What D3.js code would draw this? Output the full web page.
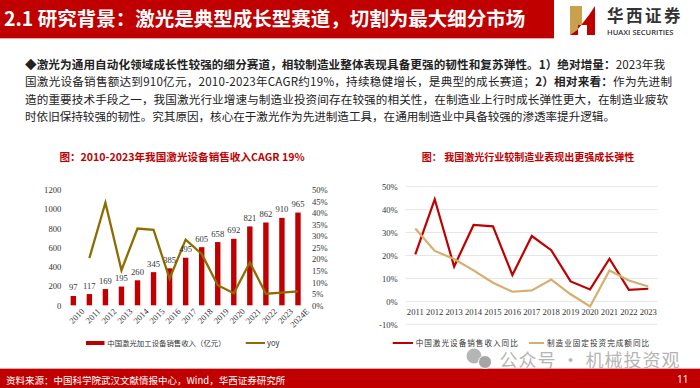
<!DOCTYPE html>
<html>
<head>
<meta charset="utf-8">
<script src="https://cdn.jsdelivr.net/npm/d3@7"></script>
<style>
  html, body { margin: 0; padding: 0; background: #fff; }
  svg { display: block; }
</style>
</head>
<body>
<div id="chart"></div>
<script>
// 左图：激光设备销售收入与同比
const years = ["2010","2011","2012","2013","2014","2015","2016","2017","2018","2019","2020","2021","2022","2023","2024E"];
const revenue = [97,117,169,195,260,345,385,495,605,658,692,821,862,910,965];
const yoy = [null,20.5,44.5,15.2,33.3,32.7,11.5,28.5,22.3,8.7,5.2,18.6,5.0,5.5,6.0];
const revenueTicks = [0,200,400,600,800,1000,1200];
const yoyTicks = [0,5,10,15,20,25,30,35,40,45,50];

// 右图：激光行业与制造业投资同比
const years2 = ["2011","2012","2013","2014","2015","2016","2017","2018","2019","2020","2021","2022","2023"];
const laserYoy = [20.5,44.5,15.2,33.3,32.7,11.5,28.5,22.3,8.7,5.2,18.6,5.0,5.5];
const mfgYoy = [31.8,22.0,18.5,13.5,8.1,4.2,4.8,9.5,3.1,-2.2,13.5,9.1,6.5];
const pctTicks = [-10,0,10,20,30,40,50];

const RED = "#c00000", OLIVE = "#8f6c00", TAN = "#d6ae6e";
const CJK = "'Noto Sans CJK SC'", SERIF = "'Liberation Serif'";

const svg = d3.select("#chart").append("svg").attr("width", 700).attr("height", 388);

// 顶部标题栏
svg.append("rect").attr("width", 554).attr("height", 38).attr("fill", RED);
svg.append("rect").attr("y", 38).attr("width", 554).attr("height", 1).attr("fill", "#e9a6a6");
svg.append("text").attr("x", 4).attr("y", 26)
  .attr("font-family", CJK).attr("font-size", 19.5).attr("font-weight", 700).attr("fill", "#fff")
  .text("2.1 研究背景：激光是典型成长型赛道，切割为最大细分市场");

// logo
svg.append("path").attr("d", "M570 6L582 6L582 24L577 30L570 35Z").attr("fill", "#c9a04b");
svg.append("path").attr("d", "M570 35L577 30L582 24L589 15L595 6L595 35L587 35L587 25L578 25L578 35Z").attr("fill", RED);
svg.append("text").attr("x", 607).attr("y", 22).attr("font-family", CJK)
  .attr("font-size", 16.5).attr("letter-spacing", 2.5).attr("font-weight", 700).attr("fill", "#333").text("华西证券");
svg.append("text").attr("x", 607).attr("y", 34.5).attr("font-family", "'Open Sans'")
  .attr("font-size", 7.6).attr("font-weight", 600).attr("fill", "#333").text("HUAXI SECURITIES");

// 正文
const bodyLines = [
  [["◆激光为通用自动化领域成长性较强的细分赛道，相较制造业整体表现具备更强的韧性和复苏弹性。1）绝对增量：", 700], ["2023年我", 400]],
  [["国激光设备销售额达到910亿元，2010-2023年CAGR约19%，持续稳健增长，是典型的成长赛道；", 400], ["2）相对来看：", 700], ["作为先进制", 400]],
  [["造的重要技术手段之一，我国激光行业增速与制造业投资间存在较强的相关性，在制造业上行时成长弹性更大，在制造业疲软", 400]],
  [["时依旧保持较强的韧性。究其原因，核心在于激光作为先进制造工具，在通用制造业中具备较强的渗透率提升逻辑。", 400]]
];
const bodyY = [69, 86, 103.5, 121];
const bodyLen = [640, 647, 643, 590];
bodyLines.forEach((parts, i) => {
  const t = svg.append("text").attr("x", 25).attr("y", bodyY[i])
    .attr("textLength", bodyLen[i])
    .attr("font-family", CJK).attr("font-size", 11.6).attr("fill", "#222");
  parts.forEach(p => t.append("tspan").attr("font-weight", p[1]).text(p[0]));
});

// 图标题
const titles = [[182, 10.6, "图：2010-2023年我国激光设备销售收入CAGR 19%"], [528, 10, "图： 我国激光行业较制造业表现出更强成长弹性"]];
titles.forEach(d => {
  svg.append("text").attr("x", d[0]).attr("y", 161).attr("text-anchor", "middle")
    .attr("font-family", CJK).attr("font-size", d[1]).attr("font-weight", 700).attr("fill", RED).text(d[2]);
});

// ---------- 左图 ----------
const x1 = d3.scaleBand().domain(years).range([65.3, 306]);
const yL = d3.scaleLinear().domain([0, 1200]).range([305.3, 190]);
const yR = d3.scaleLinear().domain([0, 50]).range([305.3, 190]);
const g1 = svg.append("g");

g1.selectAll("rect.bar").data(years).join("rect")
  .attr("class", "bar")
  .attr("x", d => x1(d) + x1.bandwidth() / 2 - 2.7)
  .attr("y", (d, i) => yL(revenue[i]))
  .attr("width", 5.4)
  .attr("height", (d, i) => yL(0) - yL(revenue[i]))
  .attr("fill", RED);

const axisL = g1.append("g").attr("transform", "translate(65.3,0)")
  .call(d3.axisLeft(yL).tickValues(revenueTicks).tickSize(0).tickPadding(4).tickFormat(d3.format("d")));
const axisR = g1.append("g").attr("transform", "translate(306,0)")
  .call(d3.axisRight(yR).tickValues(yoyTicks).tickSize(0).tickPadding(6).tickFormat(d => d + "%"));
const axisB = g1.append("g").attr("transform", "translate(0,305.3)")
  .call(d3.axisBottom(x1).tickSize(0).tickPadding(5));
[axisL, axisR, axisB].forEach(a => {
  a.select(".domain").remove();
  a.selectAll("text").attr("font-family", SERIF).attr("font-size", 8.6).attr("fill", "#333");
});
axisB.selectAll("line").remove();
axisB.selectAll("text")
  .attr("text-anchor", "end").attr("dx", 3.5).attr("dy", 8)
  .attr("transform", "rotate(-45)");

g1.append("path").datum(years.map((d, i) => [d, yoy[i]]).filter(d => d[1] !== null))
  .attr("d", d3.line().x(d => x1(d[0]) + x1.bandwidth() / 2).y(d => yR(d[1])))
  .attr("fill", "none").attr("stroke", OLIVE).attr("stroke-width", 2.3);

g1.selectAll("text.val").data(years).join("text")
  .attr("class", "val")
  .attr("x", d => x1(d) + x1.bandwidth() / 2)
  .attr("y", (d, i) => yL(revenue[i]) - 5.5)
  .attr("text-anchor", "middle")
  .attr("font-family", SERIF).attr("font-size", 8.6).attr("fill", "#333")
  .text((d, i) => revenue[i]);

// 左图图例
g1.append("rect").attr("x", 86).attr("y", 341).attr("width", 18.5).attr("height", 4).attr("fill", RED);
g1.append("text").attr("x", 107.3).attr("y", 346).attr("font-family", CJK).attr("font-size", 7.4).attr("fill", "#333")
  .text("中国激光加工设备销售收入（亿元）");
g1.append("line").attr("x1", 245.7).attr("x2", 265).attr("y1", 343).attr("y2", 343).attr("stroke", OLIVE).attr("stroke-width", 2);
g1.append("text").attr("x", 267).attr("y", 346).attr("font-family", CJK).attr("font-size", 7.6).attr("fill", "#333").text("yoy");

// ---------- 右图 ----------
const x2 = d3.scalePoint().domain(years2).range([415.3, 648.3]);
const y2 = d3.scaleLinear().domain([-10, 50]).range([324.3, 186.7]);
const g2 = svg.append("g");

g2.selectAll("line.grid").data(pctTicks).join("line")
  .attr("class", "grid")
  .attr("x1", 405.7).attr("x2", 657.7)
  .attr("y1", d => y2(d)).attr("y2", d => y2(d))
  .attr("stroke", "#e6e6e6").attr("stroke-width", 1);

const axisP = g2.append("g").attr("transform", "translate(405.7,0)")
  .call(d3.axisLeft(y2).tickValues(pctTicks).tickSize(0).tickPadding(8).tickFormat(d => d + "%"));
axisP.select(".domain").remove();
axisP.selectAll("text").attr("font-family", SERIF).attr("font-size", 8.6).attr("fill", "#333");

g2.selectAll("text.yr").data(years2).join("text")
  .attr("class", "yr")
  .attr("x", d => x2(d)).attr("y", 314.5).attr("text-anchor", "middle")
  .attr("font-family", SERIF).attr("font-size", 8.6).attr("fill", "#333").text(d => d);

const lineFn = d3.line().x((d, i) => x2(years2[i])).y(d => y2(d));
g2.append("path").datum(laserYoy).attr("d", lineFn).attr("fill", "none").attr("stroke", RED).attr("stroke-width", 2.2);
g2.append("path").datum(mfgYoy).attr("d", lineFn).attr("fill", "none").attr("stroke", TAN).attr("stroke-width", 2.2);

// 右图图例
g2.append("line").attr("x1", 392.7).attr("x2", 413).attr("y1", 343).attr("y2", 343).attr("stroke", RED).attr("stroke-width", 2);
g2.append("text").attr("x", 415.7).attr("y", 346).attr("font-family", CJK).attr("font-size", 7.6).attr("letter-spacing", 1).attr("fill", "#333")
  .text("中国激光设备销售收入同比");
g2.append("line").attr("x1", 529).attr("x2", 544).attr("y1", 343).attr("y2", 343).attr("stroke", TAN).attr("stroke-width", 2);
g2.append("text").attr("x", 547).attr("y", 346).attr("font-family", CJK).attr("font-size", 7.6).attr("letter-spacing", 1).attr("fill", "#333")
  .text("制造业固定投资完成额同比");

// 底栏
svg.append("rect").attr("y", 368).attr("width", 700).attr("height", 20).attr("fill", RED);
svg.append("rect").attr("y", 368).attr("width", 700).attr("height", 1).attr("fill", "#e9a6a6");
svg.append("text").attr("x", 6).attr("y", 384).attr("font-family", CJK).attr("font-size", 9.5).attr("fill", "#fff")
  .text("资料来源：中国科学院武汉文献情报中心，Wind，华西证券研究所");
svg.append("text").attr("x", 682.7).attr("y", 383).attr("text-anchor", "middle").attr("font-family", "'Open Sans'")
  .attr("font-size", 10).attr("fill", "#fff").text("11");

// 水印
svg.append("circle").attr("cx", 474).attr("cy", 356).attr("r", 7.5).attr("fill", "#b5b5b5");
svg.append("circle").attr("cx", 485).attr("cy", 362).attr("r", 6.5).attr("fill", "#a5a5a5").attr("stroke", "#fff").attr("stroke-width", 1);
svg.append("text").attr("x", 499.5).attr("y", 367).attr("font-family", CJK).attr("font-size", 18).attr("letter-spacing", 1)
  .attr("fill", "#b5b5b5").text("公众号 · 机械投资观");
</script>
</body>
</html>
